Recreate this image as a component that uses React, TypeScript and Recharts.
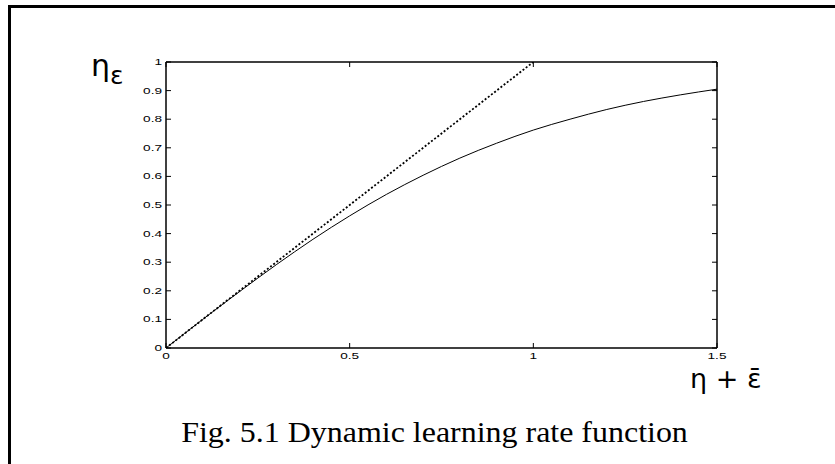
import { Line, LineChart, XAxis, YAxis } from "recharts"

// curve (eta + eps_bar -> eta_eps)
const curveX = [0, 0.1, 0.2, 0.3, 0.4, 0.5, 0.6, 0.7, 0.8, 0.9, 1.0, 1.1, 1.2, 1.3, 1.4, 1.5]
const curveY = [0, 0.1, 0.197, 0.291, 0.38, 0.462, 0.537, 0.604, 0.664, 0.716, 0.762, 0.8, 0.834, 0.862, 0.885, 0.905]

// dotted reference line
const refX = [0, 1]
const refY = [0, 1]

const xTicks = [0, 0.5, 1, 1.5]
const xTickLabels = ["0", "0.5", "1", "1.5"]
const yTicks = [0, 0.1, 0.2, 0.3, 0.4, 0.5, 0.6, 0.7, 0.8, 0.9, 1]
const yTickLabels = ["0", "0.1", "0.2", "0.3", "0.4", "0.5", "0.6", "0.7", "0.8", "0.9", "1"]

const curveData = curveX.map((x, i) => ({ x, y: curveY[i] }))
const refData = refX.map((x, i) => ({ x, y: refY[i] }))

const W = 835
const H = 464
const TICK = 5
const AX = 20
const tickFont = "'Liberation Sans', Arial, sans-serif"
const STRETCH = 1.6

const BottomTick = (props: any) => {
    const { x, y, payload } = props
    const i = xTicks.indexOf(payload.value)
    return (
        <g>
            <line x1={x} y1={y} x2={x} y2={y - TICK} stroke="#000" strokeWidth={1} />
            <text
                transform={`translate(${x},${y + 11}) scale(${STRETCH},1)`}
                textAnchor="middle"
                fontSize={8.5}
                fontFamily={tickFont}
                fill="#000"
            >
                {xTickLabels[i]}
            </text>
        </g>
    )
}

const TopTick = (props: any) => {
    const { x, y } = props
    return <line x1={x} y1={y} x2={x} y2={y + TICK} stroke="#000" strokeWidth={1} />
}

const LeftTick = (props: any) => {
    const { x, y, payload } = props
    const i = yTicks.indexOf(payload.value)
    return (
        <g>
            <line x1={x} y1={y} x2={x + TICK} y2={y} stroke="#000" strokeWidth={1} />
            <text
                transform={`translate(${x - 4},${y + 3}) scale(${STRETCH},1)`}
                textAnchor="end"
                fontSize={8.5}
                fontFamily={tickFont}
                fill="#000"
            >
                {yTickLabels[i]}
            </text>
        </g>
    )
}

const RightTick = (props: any) => {
    const { x, y } = props
    return <line x1={x} y1={y} x2={x - TICK} y2={y} stroke="#000" strokeWidth={1} />
}

export default function App() {
    return (
        <div style={{ position: "absolute", left: 0, top: 0, width: W, height: H, background: "#fff", overflow: "hidden" }}>
            <div style={{ position: "absolute", left: 8, top: 5, width: W - 8, height: 3, background: "#000" }} />
            <div style={{ position: "absolute", left: 8, top: 5, width: 3, height: H - 5, background: "#000" }} />
            <LineChart
                width={W}
                height={H}
                margin={{ top: 62 - AX, left: 166 - AX, right: W - 717 - AX, bottom: H - 348 - AX }}
                style={{ position: "absolute", left: 0, top: 0 }}
            >
                <XAxis
                    xAxisId="b"
                    type="number"
                    dataKey="x"
                    domain={[0, 1.5]}
                    ticks={xTicks}
                    allowDataOverflow
                    height={AX}
                    tickSize={0}
                    tickMargin={0}
                    tickLine={false}
                    axisLine={{ stroke: "#000", strokeWidth: 1.5 }}
                    tick={<BottomTick />}
                    interval={0}
                />
                <XAxis
                    xAxisId="t"
                    orientation="top"
                    type="number"
                    dataKey="x"
                    domain={[0, 1.5]}
                    ticks={xTicks}
                    allowDataOverflow
                    height={AX}
                    tickSize={0}
                    tickMargin={0}
                    tickLine={false}
                    axisLine={{ stroke: "#000", strokeWidth: 1.5 }}
                    tick={<TopTick />}
                    interval={0}
                />
                <YAxis
                    yAxisId="l"
                    type="number"
                    domain={[0, 1]}
                    ticks={yTicks}
                    allowDataOverflow
                    width={AX}
                    tickSize={0}
                    tickMargin={0}
                    tickLine={false}
                    axisLine={{ stroke: "#000", strokeWidth: 1.5 }}
                    tick={<LeftTick />}
                    interval={0}
                />
                <YAxis
                    yAxisId="r"
                    orientation="right"
                    type="number"
                    domain={[0, 1]}
                    ticks={yTicks}
                    allowDataOverflow
                    width={AX}
                    tickSize={0}
                    tickMargin={0}
                    tickLine={false}
                    axisLine={{ stroke: "#000", strokeWidth: 1.5 }}
                    tick={<RightTick />}
                    interval={0}
                />
                <Line
                    xAxisId="b"
                    yAxisId="l"
                    data={refData}
                    dataKey="y"
                    type="linear"
                    stroke="#000"
                    strokeWidth={1.8}
                    strokeDasharray="2 2"
                    dot={false}
                    isAnimationActive={false}
                />
                <Line
                    xAxisId="b"
                    yAxisId="l"
                    data={curveData}
                    dataKey="y"
                    type="monotone"
                    stroke="#000"
                    strokeWidth={1}
                    dot={false}
                    isAnimationActive={false}
                />
            </LineChart>
            <div
                style={{
                    position: "absolute",
                    left: 91,
                    top: 50,
                    fontFamily: "'DejaVu Sans', sans-serif",
                    fontSize: 30,
                    lineHeight: "32px",
                    color: "#000",
                    whiteSpace: "nowrap",
                }}
            >
                η<span style={{ fontSize: 25, position: "relative", top: 8 }}>ε</span>
            </div>
            <div
                style={{
                    position: "absolute",
                    left: 690,
                    top: 364,
                    fontFamily: "'DejaVu Sans', sans-serif",
                    fontSize: 27,
                    lineHeight: "30px",
                    color: "#000",
                    whiteSpace: "nowrap",
                }}
            >
                η + ε̄
            </div>
            <div
                style={{
                    position: "absolute",
                    left: 0,
                    width: 869,
                    top: 414,
                    textAlign: "center",
                    fontFamily: "'Liberation Serif', 'Times New Roman', serif",
                    fontSize: 30,
                    lineHeight: "36px",
                    color: "#000",
                    whiteSpace: "nowrap",
                    transform: "scaleX(1.065)",
                    transformOrigin: "434px 0",
                }}
            >
                Fig. 5.1 Dynamic learning rate function
            </div>
        </div>
    )
}
